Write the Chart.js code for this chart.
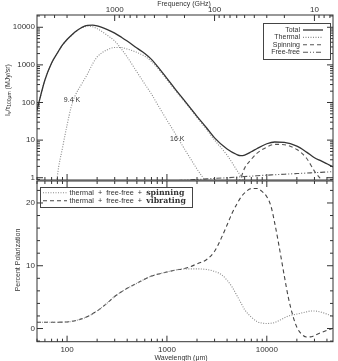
<!DOCTYPE html>
<html>
<head>
<meta charset="utf-8">
<script src="https://cdn.jsdelivr.net/npm/chart.js@4.4.1/dist/chart.umd.min.js"></script>
<style>
  html, body { margin: 0; padding: 0; background: #fff; }
  #wrap { position: relative; width: 338px; height: 361px; }
  #topChart { position: absolute; left: 0; top: 0; }
  #botChart { position: absolute; left: 0; top: 180px; }
</style>
</head>
<body>
<div id="wrap">
  <canvas id="topChart" width="338" height="181"></canvas>
  <canvas id="botChart" width="338" height="181"></canvas>
</div>
<script>
// speed of light in um*GHz, to turn wavelength into frequency
const C_UM_GHZ = 299792.458;

// top panel: spectrum, wavelength in micron
const lambdaTop = [50, 60, 70, 80, 90, 100, 110, 120, 140, 160, 180, 200, 250, 300, 350, 400, 500, 600, 700, 800,
  1000, 1200, 1500, 2000, 2500, 3000, 4000, 5000, 5500, 6000, 7000, 8000, 10000, 12000, 15000, 20000, 25000, 30000, 35000, 40000, 46000];
const totalFlux = [63, 396, 1124, 2072, 3383, 4740, 6050, 7500, 9880, 11300, 11370, 10830, 8740, 7000, 5450, 4300, 2800, 2010, 1400, 930,
  440, 235, 112, 43, 21, 11.5, 5.8, 4.14, 3.85, 4.0, 4.9, 6.0, 8.0, 8.9, 8.7, 6.9, 4.8, 3.4, 2.8, 2.35, 1.95];
const thermal16K = [62, 395, 1120, 2070, 3375, 4715, 5970, 7350, 9570, 10700, 10300, 9200, 6250, 4300, 2650, 1620, 650, 310, 168, 91,
  34, 15.5, 5.8, 1.7, 0.68, 0.2, null, null, null, null, null, null, null, null, null, null, null, null, null, null, null];
const thermal94K = [null, null, 0.02, 1.1, 6.2, 25, 76, 149, 310, 573, 1057, 1622, 2490, 2900, 2900, 2650, 2150, 1700, 1230, 840,
  405, 218, 105, 40, 19, 10, 4, 1.6, 1.1, 0.75, 0.3, null, null, null, null, null, null, null, null, null, null];
const spinningFlux = [null, null, null, null, null, null, null, null, null, null, null, null, null, null, null, null, null, null, null, null,
  null, null, null, null, null, null, 0.15, 0.6, 1.0, 1.8, 3.1, 4.5, 6.5, 7.7, 7.5, 5.6, 3.3, 1.5, 0.9, 0.6, 0.4];
const freeFreeFlux = [null, null, null, null, null, null, null, null, null, null, null, null, null, null, null, null, null, null, 0.76, 0.78,
  0.8, 0.83, 0.86, 0.9, 0.93, 0.96, 1.0, 1.04, 1.06, 1.08, 1.1, 1.13, 1.17, 1.2, 1.24, 1.29, 1.33, 1.36, 1.39, 1.42, 1.45];
const fluxTicks = [1, 10, 100, 1000, 10000];
const freqTicks = [1000, 100, 10];

// bottom panel: percent polarization
const lambdaBottom = [50, 70, 100, 125, 160, 200, 250, 300, 400, 500, 700, 1000, 1200, 1500, 2000, 2500, 3000, 3500, 4000, 4500,
  5000, 5500, 6000, 7000, 8000, 9000, 10000, 11000, 12000, 13000, 14000, 15000, 16500, 18500, 20000, 22000, 25000, 28000, 32000, 40000, 46000];
const polSpinning = [1.0, 1.0, 1.05, 1.3, 1.9, 2.8, 4.0, 5.1, 6.4, 7.2, 8.35, 9.0, 9.3, 9.5, 9.5, 9.4, 9.1, 8.6, 7.7, 6.6,
  5.3, 4.1, 3.0, 1.8, 1.1, 0.85, 0.8, 0.85, 0.95, 1.2, 1.45, 1.7, 2.0, 2.2, 2.3, 2.45, 2.65, 2.8, 2.75, 2.3, 1.9];
const polVibrating = [1.0, 1.0, 1.05, 1.3, 1.9, 2.8, 4.0, 5.1, 6.4, 7.2, 8.35, 9.0, 9.3, 9.55, 10.3, 11.0, 12.3, 14.4, 16.5, 18.4,
  19.8, 20.9, 21.6, 22.3, 22.3, 21.8, 21.0, 19.5, 16.8, 13.9, 11.0, 8.3, 4.8, 1.7, 0.2, -0.8, -1.35, -1.3, -0.9, -0.3, 0.05];
const wavelengthTicks = [100, 1000, 10000];
const polTicks = [0, 10, 20];

const FONT = '"Liberation Sans", Arial, sans-serif';
const INK = '#333';

function pts(xs, ys) {
  return xs.map((x, i) => ({ x: x, y: ys[i] }));
}

function logSteps(min, max) {
  const out = [];
  for (let e = Math.floor(Math.log10(min)); e <= Math.ceil(Math.log10(max)); e++) {
    for (let k = 1; k < 10; k++) {
      const v = k * Math.pow(10, e);
      if (v >= min && v <= max) out.push({ v: v, major: k === 1 });
    }
  }
  return out;
}

// frame + inward IDL-style tick marks on all four sides
const framePlugin = {
  id: 'frame',
  afterDraw(chart, args, opts) {
    const ctx = chart.ctx, a = chart.chartArea;
    const xs = chart.scales.x, ys = chart.scales.y;
    ctx.save();
    ctx.strokeStyle = INK;
    ctx.lineWidth = 1;
    ctx.strokeRect(a.left, a.top, a.right - a.left, a.bottom - a.top);
    const big = 6, small = 3;
    ctx.beginPath();
    (opts.yTicks || []).forEach(t => {
      const p = ys.getPixelForValue(t.v);
      const l = t.major ? big : small;
      ctx.moveTo(a.left, p); ctx.lineTo(a.left + l, p);
      ctx.moveTo(a.right, p); ctx.lineTo(a.right - l, p);
    });
    (opts.xBottom || []).forEach(t => {
      const p = xs.getPixelForValue(t.v);
      const l = t.major ? big : small;
      ctx.moveTo(p, a.bottom); ctx.lineTo(p, a.bottom - l);
    });
    (opts.xTop || []).forEach(t => {
      const p = xs.getPixelForValue(t.v);
      const l = t.major ? big : small;
      ctx.moveTo(p, a.top); ctx.lineTo(p, a.top + l);
    });
    ctx.stroke();

    // axis titles and labels
    ctx.fillStyle = INK;
    (opts.texts || []).forEach(t => {
      ctx.save();
      ctx.translate(t.px !== undefined ? t.px : xs.getPixelForValue(t.x),
                    t.py !== undefined ? t.py : ys.getPixelForValue(t.y));
      if (t.rot) ctx.rotate(t.rot);
      let w = 0;
      t.parts.forEach(p => { ctx.font = p.font; w += ctx.measureText(p.t).width; });
      let cx = -w / 2;
      ctx.textBaseline = 'middle';
      ctx.textAlign = 'left';
      t.parts.forEach(p => {
        ctx.font = p.font;
        ctx.fillText(p.t, cx, p.dy || 0);
        cx += ctx.measureText(p.t).width;
      });
      ctx.restore();
    });

    // legend box
    const lg = opts.legend;
    if (lg) {
      ctx.strokeStyle = '#444';
      ctx.setLineDash([]);
      ctx.strokeRect(lg.box[0], lg.box[1], lg.box[2] - lg.box[0], lg.box[3] - lg.box[1]);
      lg.items.forEach((it, i) => {
        const ds = chart.data.datasets[it.ds];
        const y = lg.y0 + i * lg.dy;
        ctx.save();
        ctx.strokeStyle = ds.borderColor;
        ctx.lineWidth = ds.borderWidth;
        ctx.setLineDash(ds.borderDash || []);
        ctx.beginPath();
        ctx.moveTo(lg.line[0], y); ctx.lineTo(lg.line[1], y);
        ctx.stroke();
        ctx.restore();
        ctx.textBaseline = 'middle';
        if (lg.align === 'right') {
          ctx.font = '7px ' + FONT;
          ctx.textAlign = 'right';
          ctx.fillText(it.parts[0].t, lg.textX, y);
        } else {
          let x = lg.textX;
          ctx.textAlign = 'left';
          it.parts.forEach(p => {
            ctx.font = p.font;
            ctx.fillText(p.t, x, y);
            x += ctx.measureText(p.t).width;
          });
        }
      });
    }
    ctx.restore();
  }
};

const tickFont = { family: FONT, size: 8 };

function fixY(s, w) { s.width = w; s.paddingTop = 0; s.paddingBottom = 0; }
function fixX(s, h) { s.height = h; s.paddingLeft = 0; s.paddingRight = 0; }

// ---------- top chart ----------
const fs = '7px ' + FONT, sub = '5px ' + FONT;
new Chart(document.getElementById('topChart'), {
  type: 'line',
  data: {
    datasets: [
      { label: 'Total', data: pts(lambdaTop, totalFlux), borderColor: '#333', borderWidth: 1.3 },
      { label: 'Thermal', data: pts(lambdaTop, thermal16K), borderColor: '#8a8a8a', borderWidth: 1.1, borderDash: [1, 1.5] },
      { label: 'Thermal 9.4 K', data: pts(lambdaTop, thermal94K), borderColor: '#8a8a8a', borderWidth: 1.1, borderDash: [1, 1.5] },
      { label: 'Spinning', data: pts(lambdaTop, spinningFlux), borderColor: '#555', borderWidth: 1.1, borderDash: [4, 3] },
      { label: 'Free-free', data: pts(lambdaTop, freeFreeFlux), borderColor: '#555', borderWidth: 1.1, borderDash: [5, 2, 1, 2, 1, 2] }
    ]
  },
  options: {
    responsive: false,
    animation: false,
    events: [],
    layout: { padding: { left: 0, right: 5, top: 0, bottom: 1 } },
    elements: { point: { radius: 0 }, line: { cubicInterpolationMode: 'monotone', fill: false } },
    plugins: {
      legend: { display: false },
      tooltip: { enabled: false },
      frame: {
        yTicks: logSteps(0.87, 21200),
        xBottom: logSteps(50, 46000),
        xTop: logSteps(C_UM_GHZ / 46000, C_UM_GHZ / 50).map(t => ({ v: C_UM_GHZ / t.v, major: t.major })),
        texts: [
          { px: 184, py: 4, parts: [{ t: 'Frequency (GHz)', font: fs }] },
          { px: 8, py: 90, rot: -Math.PI / 2, parts: [
            { t: 'I', font: fs }, { t: 'ν', font: sub, dy: 1.5 }, { t: '/τ', font: fs },
            { t: '100μm', font: sub, dy: 1.5 }, { t: ' (MJy/sr)', font: fs }] },
          { x: 112, y: 117, parts: [{ t: '9.4 K', font: fs }] },
          { x: 1270, y: 10.7, parts: [{ t: '16 K', font: fs }] }
        ],
        legend: {
          box: [263.5, 23.5, 330.5, 59.5], y0: 30, dy: 7.4, line: [303, 323], textX: 300, align: 'right',
          items: [
            { ds: 0, parts: [{ t: 'Total' }] },
            { ds: 1, parts: [{ t: 'Thermal' }] },
            { ds: 3, parts: [{ t: 'Spinning' }] },
            { ds: 4, parts: [{ t: 'Free-free' }] }
          ]
        }
      }
    },
    scales: {
      x: {
        type: 'logarithmic', position: 'top', min: 50, max: 46000,
        grid: { display: false, drawTicks: false }, border: { display: false },
        ticks: { font: tickFont, color: INK, padding: 0, maxRotation: 0, autoSkip: false,
          callback: v => String(Math.round(C_UM_GHZ / v)) },
        afterBuildTicks: s => { s.ticks = freqTicks.map(f => ({ value: C_UM_GHZ / f })); },
        afterFit: s => fixX(s, 15)
      },
      y: {
        type: 'logarithmic', min: 0.87, max: 21200,
        grid: { display: false, drawTicks: false }, border: { display: false },
        ticks: { font: tickFont, color: INK, padding: 2, autoSkip: false, callback: v => String(v) },
        afterBuildTicks: s => { s.ticks = fluxTicks.map(v => ({ value: v })); },
        afterFit: s => fixY(s, 37)
      }
    }
  },
  plugins: [framePlugin]
});

// ---------- bottom chart ----------
const polMinor = [];
for (let v = -2; v <= 22; v += 2) polMinor.push({ v: v, major: v % 10 === 0 });
const legFont = '7.3px ' + FONT;
const boldSerif = 'bold 7.8px "DejaVu Serif", "Liberation Serif", serif';

new Chart(document.getElementById('botChart'), {
  type: 'line',
  data: {
    datasets: [
      { label: 'spinning', data: pts(lambdaBottom, polSpinning), borderColor: '#8a8a8a', borderWidth: 1.1, borderDash: [1, 1.5] },
      { label: 'vibrating', data: pts(lambdaBottom, polVibrating), borderColor: '#444', borderWidth: 1.1, borderDash: [4, 3] }
    ]
  },
  options: {
    responsive: false,
    animation: false,
    events: [],
    layout: { padding: { left: 0, right: 5, top: 1, bottom: 0 } },
    elements: { point: { radius: 0 }, line: { cubicInterpolationMode: 'monotone', fill: false } },
    plugins: {
      legend: { display: false },
      tooltip: { enabled: false },
      frame: {
        yTicks: polMinor,
        xBottom: logSteps(50, 46000),
        xTop: logSteps(50, 46000),
        texts: [
          { px: 181, py: 178, parts: [{ t: 'Wavelength (μm)', font: fs }] },
          { px: 18, py: 80, rot: -Math.PI / 2, parts: [{ t: 'Percent Polarization', font: fs }] }
        ],
        legend: {
          box: [40.5, 7.5, 192.5, 27.5], y0: 12.7, dy: 8, line: [43, 67], textX: 69.5, align: 'left',
          items: [
            { ds: 0, parts: [{ t: 'thermal  +  free-free  +  ', font: legFont }, { t: 'spinning', font: boldSerif }] },
            { ds: 1, parts: [{ t: 'thermal  +  free-free  +  ', font: legFont }, { t: 'vibrating', font: boldSerif }] }
          ]
        }
      }
    },
    scales: {
      x: {
        type: 'logarithmic', position: 'bottom', min: 50, max: 46000,
        grid: { display: false, drawTicks: false }, border: { display: false },
        ticks: { font: tickFont, color: INK, padding: 3, maxRotation: 0, autoSkip: false, callback: v => String(v) },
        afterBuildTicks: s => { s.ticks = wavelengthTicks.map(v => ({ value: v })); },
        afterFit: s => fixX(s, 19.3)
      },
      y: {
        type: 'linear', min: -2.1, max: 23.5,
        grid: { display: false, drawTicks: false }, border: { display: false },
        ticks: { font: tickFont, color: INK, padding: 2, autoSkip: false },
        afterBuildTicks: s => { s.ticks = polTicks.map(v => ({ value: v })); },
        afterFit: s => fixY(s, 37)
      }
    }
  },
  plugins: [framePlugin]
});
</script>
</body>
</html>
